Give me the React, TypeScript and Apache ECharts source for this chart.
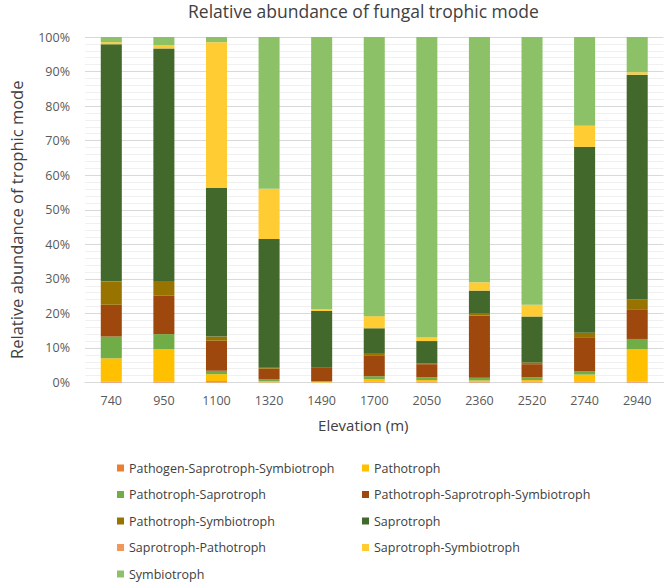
import React, { useEffect, useRef } from "react";
import * as echarts from "echarts";

const categories = ["740", "950", "1100", "1320", "1490", "1700", "2050", "2360", "2520", "2740", "2940"];

const seriesNames = [
  "Pathogen-Saprotroph-Symbiotroph",
  "Pathotroph",
  "Pathotroph-Saprotroph",
  "Pathotroph-Saprotroph-Symbiotroph",
  "Pathotroph-Symbiotroph",
  "Saprotroph",
  "Saprotroph-Pathotroph",
  "Saprotroph-Symbiotroph",
  "Symbiotroph",
];

const pathogenSapSym = [0.2, 0.2, 0.4, 0.1, 0, 0.2, 0.2, 0.2, 0.2, 0.3, 0.2];
const pathotroph = [6.8, 9.4, 2.0, 0.3, 0.2, 0.8, 0.5, 0.4, 0.5, 2.0, 9.4];
const pathSap = [6.3, 4.4, 1.0, 0.6, 0.2, 0.8, 0.8, 0.8, 0.8, 1.0, 3.0];
const pathSapSym = [9.2, 11.1, 8.7, 3.0, 3.8, 5.9, 3.8, 18.0, 3.8, 9.8, 8.6];
const pathSym = [6.7, 4.3, 1.2, 0.3, 0.3, 0.6, 0.3, 0.5, 0.5, 1.3, 2.9];
const saprotroph = [68.7, 67.3, 43.0, 37.2, 16.2, 7.4, 6.4, 6.7, 13.3, 53.8, 65.0];
const sapPath = [0, 0, 0, 0, 0, 0, 0, 0, 0, 0, 0];
const sapSym = [0.6, 0.9, 42.2, 14.6, 0.5, 3.5, 1.0, 2.4, 3.4, 6.1, 0.7];
const symbiotroph = [1.5, 2.4, 1.5, 43.9, 78.8, 80.8, 87.0, 71.0, 77.5, 25.7, 10.2];

const seriesData = [pathogenSapSym, pathotroph, pathSap, pathSapSym, pathSym, saprotroph, sapPath, sapSym, symbiotroph];

const colors = ["#ED7D31", "#FFC000", "#70AD47", "#9E480E", "#997300", "#43682B", "#F1975A", "#FFCD33", "#8CC168"];

const yTicks = [0, 10, 20, 30, 40, 50, 60, 70, 80, 90, 100];

const FONT = "'Open Sans', sans-serif";

export default function App() {
  const ref = useRef<HTMLDivElement>(null);
  useEffect(() => {
    document.body.style.margin = "0";
    if (!ref.current) return;
    const chart = echarts.init(ref.current, undefined, { renderer: "svg" });
    const series = seriesNames.map((name, i) => ({
      name,
      type: "bar",
      stack: "total",
      barCategoryGap: "60%",
      itemStyle: { color: colors[i] },
      data: seriesData[i],
    }));
    const legendText = { fontFamily: FONT, fontSize: 12.5, color: "#404040", lineHeight: 16 };
    const legendBase = {
      orient: "vertical",
      top: 460,
      padding: 0,
      itemWidth: 7,
      itemHeight: 7,
      itemGap: 10.5,
      icon: "rect",
      textStyle: legendText,
    };
    chart.setOption({
      animation: false,
      backgroundColor: "#ffffff",
      color: colors,
      title: {
        text: "Relative abundance of fungal trophic mode",
        left: 183,
        top: -3,
        textStyle: { fontFamily: FONT, fontSize: 17.5, fontWeight: "normal", color: "#404040" },
      },
      grid: { left: 70, right: 0.5, top: 37, bottom: 200.5, containLabel: false },
      legend: [
        {
          ...legendBase,
          left: 117,
          data: [seriesNames[0], seriesNames[2], seriesNames[4], seriesNames[6], seriesNames[8]],
        },
        {
          ...legendBase,
          left: 362,
          data: [seriesNames[1], seriesNames[3], seriesNames[5], seriesNames[7]],
        },
      ],
      xAxis: {
        type: "category",
        data: categories,
        name: "Elevation (m)",
        nameLocation: "middle",
        nameGap: 35,
        nameTextStyle: { fontFamily: FONT, fontSize: 15, color: "#404040", padding: [0, 22, 0, 0] },
        axisLine: { show: true, lineStyle: { color: "#D9D9D9" } },
        axisTick: { show: false },
        axisLabel: { fontFamily: FONT, fontSize: 12.5, color: "#595959", margin: 11 },
      },
      yAxis: {
        type: "value",
        min: 0,
        max: 100,
        interval: 10,
        name: "Relative abundance of trophic mode",
        nameLocation: "middle",
        nameGap: 60,
        nameTextStyle: { fontFamily: FONT, fontSize: 16.5, color: "#404040", padding: [0, 20, 0, 0] },
        axisLine: { show: false },
        axisTick: { show: false },
        axisLabel: {
          fontFamily: FONT,
          fontSize: 12.5,
          color: "#595959",
          margin: 15,
          formatter: (v: number) => (yTicks.includes(v) ? v + "%" : ""),
        },
        splitLine: { show: true, lineStyle: { color: "#D9D9D9", width: 1 } },
        minorTick: { show: false, splitNumber: 5 },
        minorSplitLine: { show: true, lineStyle: { color: "#F0F0F0", width: 1 } },
      },
      series,
    });
    return () => chart.dispose();
  }, []);
  return <div ref={ref} style={{ width: 664, height: 583 }} />;
}
